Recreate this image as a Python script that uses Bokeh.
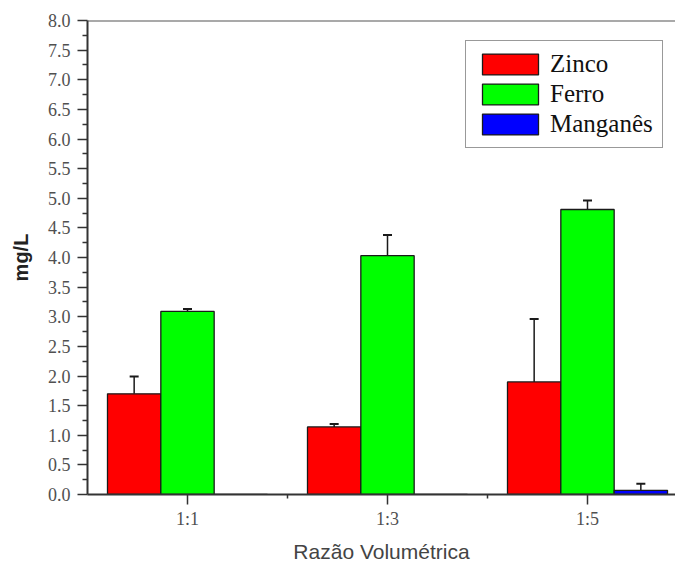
from bokeh.plotting import figure
from bokeh.models import (Range1d, FixedTicker, Span, Whisker, TeeHead, ColumnDataSource,
                          Legend, LegendItem, NumeralTickFormatter)
from bokeh.embed import file_html
from bokeh.resources import INLINE

# ---- data ----
categories = ["1:1", "1:3", "1:5"]
series_names = ["Zinco", "Ferro", "Manganês"]
zinco = [1.70, 1.14, 1.90]
zinco_err = [0.29, 0.05, 1.06]
ferro = [3.09, 4.03, 4.81]
ferro_err = [0.04, 0.35, 0.15]
manganes = [0.0, 0.0, 0.07]
manganes_err = [0.0, 0.0, 0.11]
y_ticks = [i * 0.5 for i in range(17)]
x_label = "Razão Volumétrica"
y_label = "mg/L"

colors = ["#FF0000", "#00FF00", "#0000FF"]
offsets = [-0.2667, 0.0, 0.2667]
bar_w = 0.2667

p = figure(width=675, height=565, output_backend="svg", toolbar_location=None,
           x_range=Range1d(0.5, 3.44), y_range=Range1d(0, 8),
           min_border_left=87, min_border_right=0, min_border_top=20, min_border_bottom=71)
p.outline_line_color = None
p.xgrid.visible = False
p.ygrid.visible = False
p.background_fill_color = "white"
p.border_fill_color = "white"

xs = [i + 1 for i in range(len(categories))]
renderers = []
for name, vals, errs, col, off in zip(series_names, [zinco, ferro, manganes],
                                        [zinco_err, ferro_err, manganes_err], colors, offsets):
    src = ColumnDataSource(dict(x=[x + off for x in xs], top=vals))
    r = p.vbar(x="x", top="top", width=bar_w, source=src, fill_color=col,
               line_color="#1a1a1a", line_width=1.3)
    renderers.append(r)
    ex = [x + off for x, e in zip(xs, errs) if e > 0]
    eb = [v for v, e in zip(vals, errs) if e > 0]
    eu = [v + e for v, e in zip(vals, errs) if e > 0]
    wsrc = ColumnDataSource(dict(x=ex, base=eb, upper=eu))
    w = Whisker(base="x", lower="base", upper="upper", dimension="height", source=wsrc,
                line_color="#1a1a1a", line_width=1.5,
                upper_head=TeeHead(size=9, line_color="#1a1a1a", line_width=2),
                lower_head=None)
    p.add_layout(w)

# top border
p.add_layout(Span(location=8, dimension="width", line_color="#555555", line_width=2))

# axes
xa = p.xaxis[0]
xa.ticker = FixedTicker(ticks=xs, minor_ticks=[1.5, 2.5])
xa.major_label_overrides = {x: c for x, c in zip(xs, categories)}
ya = p.yaxis[0]
ya.ticker = FixedTicker(ticks=y_ticks, minor_ticks=[t + 0.25 for t in y_ticks[:-1]])
ya.formatter = NumeralTickFormatter(format="0.0")

for ax in (xa, ya):
    ax.axis_line_color = "#333333"
    ax.axis_line_width = 2
    ax.major_tick_line_color = "#333333"
    ax.minor_tick_line_color = "#333333"
    ax.major_tick_line_width = 1.5
    ax.minor_tick_line_width = 1.5
    ax.major_tick_in = 0
    ax.major_tick_out = 10
    ax.minor_tick_in = 0
    ax.major_label_text_font = "Liberation Serif"
    ax.major_label_text_font_size = "18px"
    ax.major_label_text_color = "#505050"
xa.major_label_standoff = 4
ya.major_label_standoff = 7
xa.minor_tick_out = 4
ya.minor_tick_out = 5

xa.axis_label = x_label
xa.axis_label_text_font = "Liberation Sans"
xa.axis_label_text_font_style = "normal"
xa.axis_label_text_font_size = "21px"
xa.axis_label_text_color = "#444444"
xa.axis_label_standoff = 8

ya.axis_label = y_label
ya.axis_label_text_font = "Liberation Sans"
ya.axis_label_text_font_style = "bold"
ya.axis_label_text_font_size = "20px"
ya.axis_label_text_color = "#222222"
ya.axis_label_standoff = 13

legend = Legend(items=[LegendItem(label=n, renderers=[r]) for n, r in zip(series_names, renderers)],
                location=(378, 346))
legend.label_text_font = "Liberation Serif"
legend.label_text_font_size = "25px"
legend.label_text_color = "#111111"
legend.glyph_width = 70
legend.glyph_height = 26
legend.label_standoff = 5
legend.spacing = 2
legend.padding = 9
legend.margin = 0
legend.border_line_color = "#333333"
legend.border_line_width = 1.5
legend.background_fill_alpha = 1
p.add_layout(legend, "center")

open("out.html", "w").write(file_html(p, INLINE))
